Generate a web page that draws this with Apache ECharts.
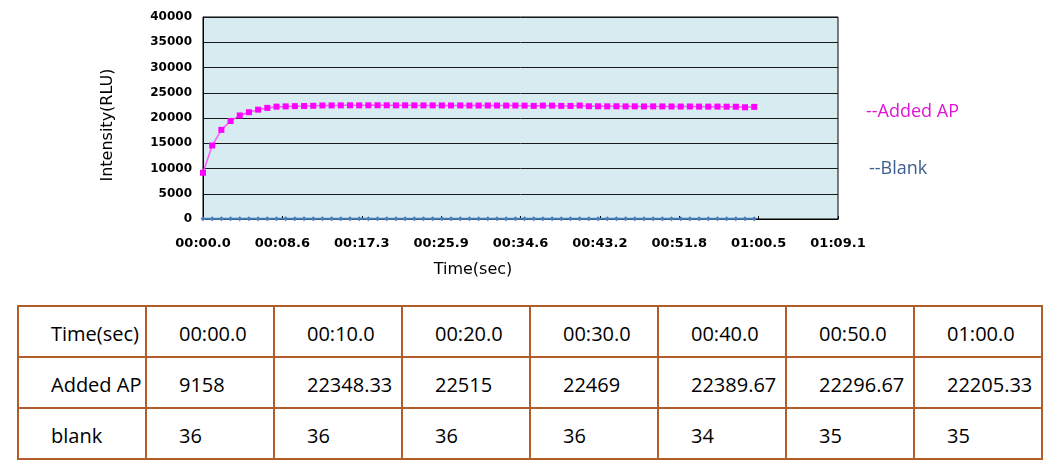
<!DOCTYPE html>
<html>
<head>
<meta charset="utf-8">
<script src="https://cdn.jsdelivr.net/npm/echarts@6/dist/echarts.min.js"></script>
<style>
  html, body { margin:0; padding:0; background:#fff; width:1060px; height:465px; overflow:hidden; }
  #chart { position:absolute; left:0; top:0; width:1060px; height:300px; }
  #tbl { position:absolute; left:17px; top:305px; border-collapse:collapse; table-layout:fixed; width:1026px;
         font-family:"Open Sans", sans-serif; font-size:20px; color:#000; }
  #tbl td { border:2px solid #B25E2A; height:51px; padding:4px 0 0 32px; box-sizing:border-box; white-space:nowrap; overflow:visible; vertical-align:middle; }
</style>
</head>
<body>
<div id="chart"></div>
<table id="tbl"></table>
<script>
// ---- data ----
const times = [0,1,2,3,4,5,6,7,8,9,10,11,12,13,14,15,16,17,18,19,20,21,22,23,24,25,26,27,28,29,30,31,32,33,34,35,36,37,38,39,40,41,42,43,44,45,46,47,48,49,50,51,52,53,54,55,56,57,58,59,60];
const addedAP = [9158,14550,17650,19400,20500,21150,21650,22000,22250,22300,
  22348.33,22380,22420,22480,22490,22500,22510,22500,22510,22520,
  22515,22500,22510,22500,22490,22500,22490,22480,22490,22470,
  22469,22480,22470,22460,22470,22450,22400,22460,22450,22400,
  22389.67,22470,22330,22320,22310,22320,22300,22310,22290,22300,
  22296.67,22280,22270,22280,22260,22250,22260,22240,22230,22120,
  22205.33];
const blank = [36,36,36,35,36,36,36,35,36,36,
  36,36,35,36,36,36,36,35,36,36,
  36,36,36,35,36,36,36,36,35,36,
  36,35,36,35,35,34,35,35,34,35,
  34,35,35,34,35,35,35,34,35,35,
  35,35,34,35,35,35,35,34,35,35,
  35];
const tableHeader = ['Time(sec)','00:00.0','00:10.0','00:20.0','00:30.0','00:40.0','00:50.0','01:00.0'];
const tableAdded = ['Added AP','9158','22348.33','22515','22469','22389.67','22296.67','22205.33'];
const tableBlank = ['blank','36','36','36','36','34','35','35'];
const seriesNames = ['--Added AP','--Blank'];

// ---- table ----
const tbl = document.getElementById('tbl');
const cg = document.createElement('colgroup');
for (let i = 0; i < 8; i++) { const c = document.createElement('col'); c.style.width = '128px'; cg.appendChild(c); }
tbl.appendChild(cg);
[tableHeader, tableAdded, tableBlank].forEach(row => {
  const tr = document.createElement('tr');
  row.forEach(v => { const td = document.createElement('td'); td.textContent = v; tr.appendChild(td); });
  tbl.appendChild(tr);
});

// ---- chart ----
function fmt(v) {
  const m = Math.floor(v / 60 + 1e-9);
  const s = v - m * 60;
  const mm = (m < 10 ? '0' : '') + m;
  const ss = (s < 9.95 ? '0' : '') + s.toFixed(1);
  return mm + ':' + ss;
}
const chart = echarts.init(document.getElementById('chart'), null, { renderer: 'canvas' });
chart.setOption({
  animation: false,
  grid: { left: 203, top: 17, width: 635, height: 202, show: true, backgroundColor: '#D6ECF1', borderColor: '#000', borderWidth: 1 },
  xAxis: {
    type: 'value', min: 0, max: 69.12, interval: 8.64,
    axisLine: { show: true, onZero: false, lineStyle: { color: '#000', width: 1 } },
    axisTick: { show: true, inside: true, length: 3, lineStyle: { color: '#000' } },
    axisLabel: { formatter: fmt, fontFamily: 'DejaVu Sans', fontWeight: 'bold', fontSize: 13, color: '#000', margin: 18 },
    splitLine: { show: false }
  },
  yAxis: {
    type: 'value', min: 0, max: 40000, interval: 5000,
    axisLine: { show: true, lineStyle: { color: '#000' } },
    axisTick: { show: false },
    axisLabel: { formatter: v => String(v), fontFamily: 'DejaVu Sans', fontWeight: 'bold', fontSize: 12, color: '#000', margin: 11 },
    splitLine: { show: true, lineStyle: { color: '#1a1a1a', width: 1 } }
  },
  series: [
    { name: seriesNames[0], type: 'line', data: times.map((t, i) => [t, addedAP[i]]),
      symbol: 'rect', symbolSize: 6, itemStyle: { color: '#FF00FF' },
      lineStyle: { color: '#FF55FF', width: 1.5 }, z: 4 },
    { name: seriesNames[1], type: 'line', data: times.map((t, i) => [t, blank[i]]),
      symbol: 'diamond', symbolSize: 5, itemStyle: { color: '#4A7EBB' },
      lineStyle: { color: '#4A7EBB', width: 2 }, z: 3 }
  ],
  graphic: [
    { type: 'text', x: 108, y: 125, rotation: Math.PI / 2,
      style: { text: 'Intensity(RLU)', font: '16px "DejaVu Sans"', fill: '#000', align: 'center', verticalAlign: 'middle' } },
    { type: 'text', x: 473, y: 270,
      style: { text: 'Time(sec)', font: '16px "DejaVu Sans"', fill: '#000', align: 'center', verticalAlign: 'middle' } },
    { type: 'text', x: 866, y: 112,
      style: { text: seriesNames[0], font: '18px "Open Sans"', fill: '#E015D5', align: 'left', verticalAlign: 'middle' } },
    { type: 'text', x: 869, y: 169,
      style: { text: seriesNames[1], font: '18px "Open Sans"', fill: '#3B5E8E', align: 'left', verticalAlign: 'middle' } }
  ]
});
</script>
</body>
</html>
